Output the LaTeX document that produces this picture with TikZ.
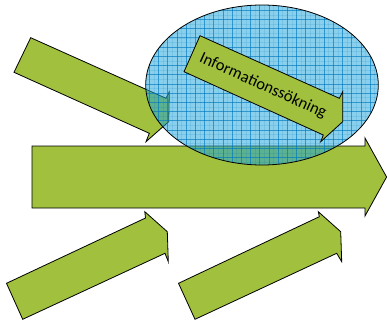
\documentclass[tikz,border=0pt]{standalone}
\usepackage{fontspec}
\setmainfont{Carlito}
\definecolor{arrowgreen}{RGB}{160,192,62}
\definecolor{ellblue}{RGB}{30,165,220}
\definecolor{gridblue}{RGB}{0,120,190}
\begin{document}
\begin{tikzpicture}[x=1pt,y=-1pt,
  arrowshape/.style={fill=arrowgreen,draw=black,line width=0.8pt,line join=miter},
  ellfill/.style={fill=ellblue,fill opacity=0.52},
  gridmajor/.style={draw=gridblue,line width=0.6pt,opacity=0.6},
  gridminor/.style={draw=gridblue,line width=0.4pt,opacity=0.14},
  ellline/.style={draw=black,line width=0.8pt},
  labeltext/.style={font=\fontsize{16.5}{18}\selectfont,text=black,inner sep=0pt}]
\useasboundingbox (0,0) rectangle (387,321);
% upper-left arrow
\path[arrowshape] (30.7,37.7) -- (166,98.3) -- (169.3,91.7) -- (168.7,121.7)
  -- (146,141.7) -- (149.3,133.3) -- (14,72.3) -- cycle;
% big horizontal arrow
\path[arrowshape] (32,146) -- (365,146) -- (365,138) -- (386.6,177) -- (365,216)
  -- (365,208) -- (32,208) -- cycle;
% bottom-left arrow
\path[arrowshape] (6.5,283.3) -- (145.5,218) -- (144.8,211.7) -- (167.3,231.7)
  -- (168.3,261.7) -- (165,253.3) -- (22.7,319.3) -- cycle;
% bottom-right arrow
\path[arrowshape] (178.5,283.3) -- (319.3,216.7) -- (318.3,211.7) -- (340.7,231.7)
  -- (341.7,261.7) -- (336.7,253.3) -- (195,319.3) -- cycle;
% ellipse
\coordinate (ec) at (262,85);
\path[ellfill] (ec) ellipse [x radius=116.3pt, y radius=80pt];
\begin{scope}
  \clip (ec) ellipse [x radius=116.3pt, y radius=80pt];
  \foreach \i in {0,...,54} {
    \path[gridminor] ({140+\i*4.6},0) -- ({140+\i*4.6},170);
  }
  \foreach \j in {0,...,38} {
    \path[gridminor] (140,{1+\j*4.6}) -- (385,{1+\j*4.6});
  }
  \foreach \i in {0,...,27} {
    \path[gridmajor] ({140+\i*9.2},0) -- ({140+\i*9.2},170);
  }
  \foreach \j in {0,...,19} {
    \path[gridmajor] (140,{1+\j*9.2}) -- (385,{1+\j*9.2});
  }
\end{scope}
\path[ellline] (ec) ellipse [x radius=116.3pt, y radius=80pt];
% information arrow
\path[arrowshape] (200,35.7) -- (339.3,98.3) -- (342.7,91.7) -- (342.7,121.7)
  -- (320.7,141.7) -- (323.3,135) -- (184,71.7) -- cycle;
\node[labeltext,rotate=-24.3] (info) at (263,86) {Informationssökning};
\end{tikzpicture}
\end{document}
